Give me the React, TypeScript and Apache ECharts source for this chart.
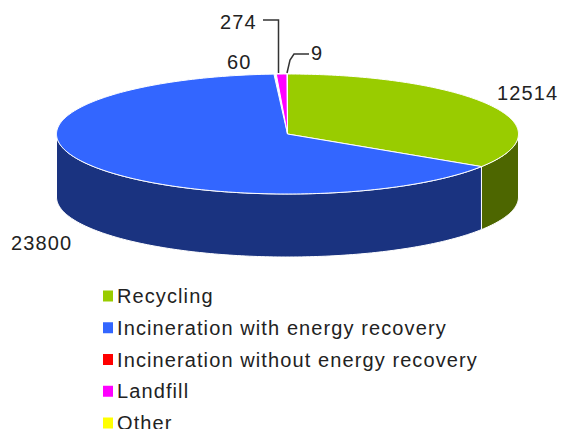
import React, { useEffect, useRef } from "react";
import * as echarts from "echarts";

const categories = ["Recycling", "Incineration with energy recovery", "Incineration without energy recovery", "Landfill", "Other"];
const values = [12514, 23800, 60, 274, 9];
const topColors = ["#99cc00", "#3366ff", "#ff0000", "#ff00ff", "#ffff00"];
const sideColors = ["#4d6600", "#1a3380", "#800000", "#800080", "#808000"];

const total = values.reduce((a, b) => a + b, 0);
const CX = 287.5, CY = 134, RX = 231, RY = 60, DEPTH = 63;

function pt(deg: number, dy = 0): number[] {
  const t = (deg * Math.PI) / 180;
  return [CX + RX * Math.sin(t), CY + dy - RY * Math.cos(t)];
}
function arc(a: number, b: number, dy = 0): number[][] {
  const n = Math.max(2, Math.ceil(Math.abs(b - a)));
  const out: number[][] = [];
  for (let i = 0; i <= n; i++) out.push(pt(a + ((b - a) * i) / n, dy));
  return out;
}

export default function App() {
  const ref = useRef<HTMLDivElement>(null);
  useEffect(() => {
    document.body.style.margin = "0";
    document.body.style.overflow = "hidden";
    const chart = echarts.init(ref.current!, undefined, { renderer: "svg" });
    let acc = 0;
    const series = categories.map((name, i) => {
      const start = (acc / total) * 360;
      acc += values[i];
      const end = (acc / total) * 360;
      return {
        type: "custom",
        name,
        coordinateSystem: "none",
        data: [[values[i]]],
        itemStyle: { color: topColors[i] },
        silent: true,
        renderItem: () => {
          const children: any[] = [];
          const a = Math.max(start, 90), b = Math.min(end, 270);
          if (b > a) {
            children.push({
              type: "polygon",
              z2: 1,
              shape: { points: [...arc(a, b), ...arc(b, a, DEPTH)] },
              style: { fill: sideColors[i], stroke: "#ffffff", lineWidth: 1 },
            });
          }
          children.push({
            type: "polygon",
            z2: i === 2 ? 5 : 10,
            shape: { points: [[CX, CY], ...arc(start, end)] },
            style: { fill: topColors[i], stroke: "#ffffff", lineWidth: i === 2 ? 2.6 : 1 },
          });
          return { type: "group", children };
        },
      };
    });
    const font = { fontFamily: "Liberation Sans", fontSize: 20, fill: "#222222" };
    const leader = { stroke: "#333333", lineWidth: 1.5, fill: "none" };
    chart.setOption({
      animation: false,
      color: topColors,
      legend: {
        orient: "vertical",
        left: 103,
        top: 286,
        height: 220,
        itemWidth: 10,
        itemHeight: 11,
        itemGap: 11.75,
        icon: "rect",
        selectedMode: false,
        padding: 0,
        textStyle: { fontFamily: "Liberation Sans", fontSize: 20, color: "#222222", padding: [0, 0, 0, -1] },
        data: categories,
      },
      series,
      graphic: [
        { type: "text", left: 497, top: 83, style: { ...font, text: String(values[0]) } },
        { type: "text", left: 11, top: 233, style: { ...font, text: String(values[1]) } },
        { type: "text", left: 227, top: 52, style: { ...font, text: String(values[2]) } },
        { type: "text", left: 220, top: 12, style: { ...font, text: String(values[3]) } },
        { type: "text", left: 311, top: 43, style: { ...font, text: String(values[4]) } },
        { type: "polyline", shape: { points: [[263, 20], [278.5, 20], [278.5, 73]] }, style: leader },
        { type: "polyline", shape: { points: [[309, 54], [294, 54], [290, 60], [287, 73]] }, style: leader },
      ],
    });
    return () => chart.dispose();
  }, []);
  return <div ref={ref} style={{ width: 565, height: 429, letterSpacing: "1.1px" }} />;
}
